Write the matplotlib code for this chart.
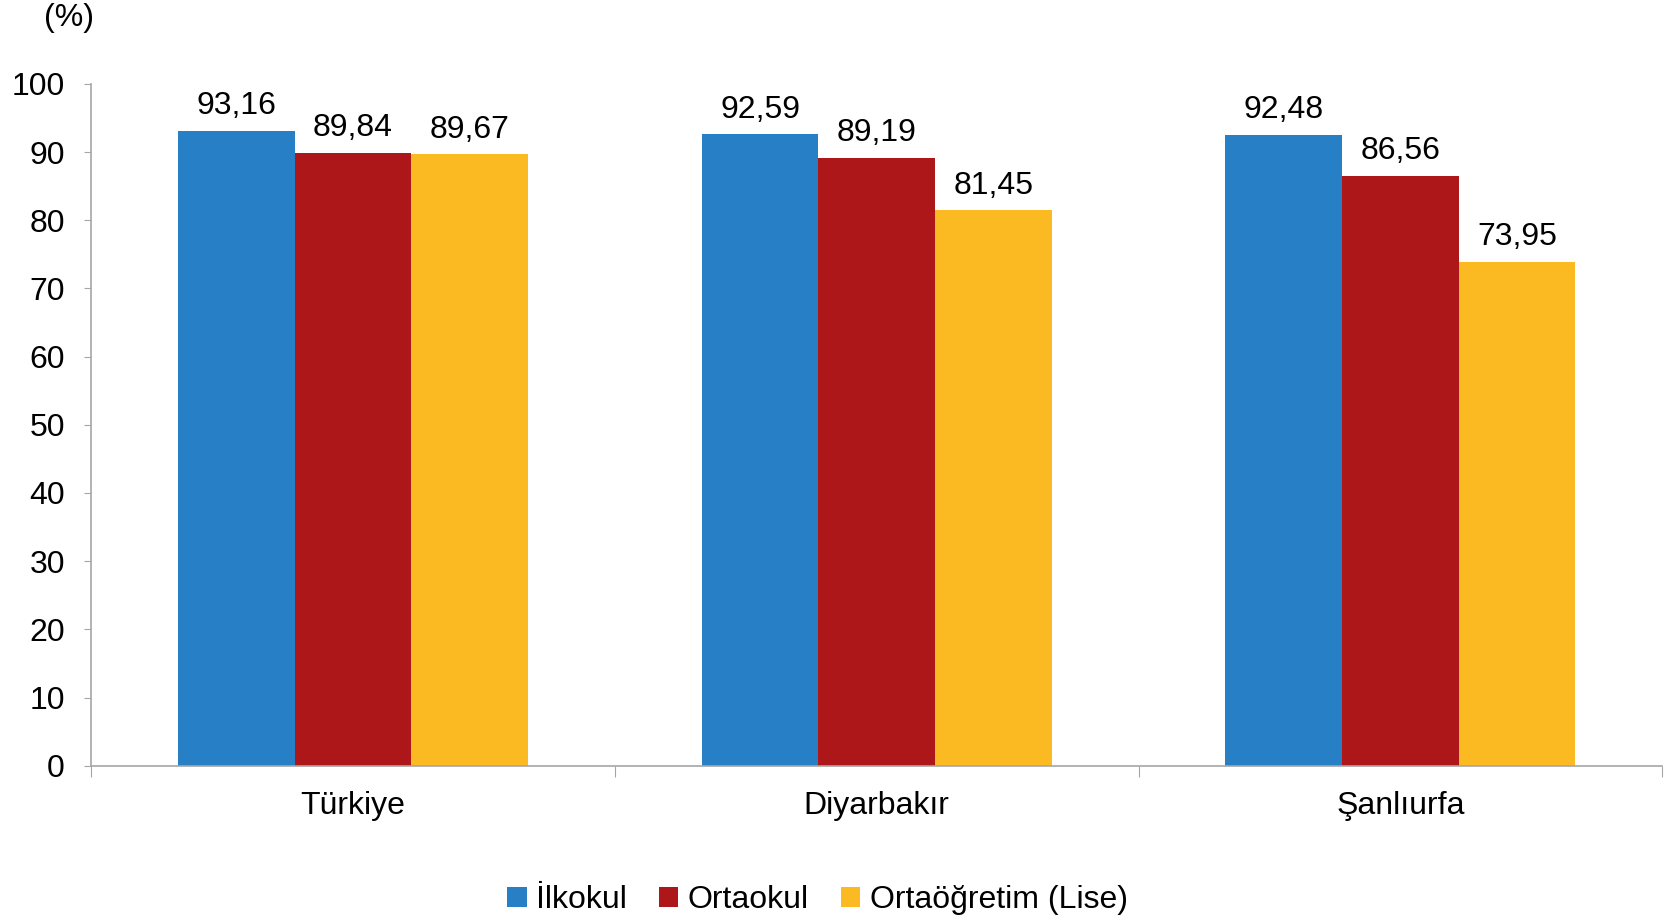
import matplotlib.pyplot as plt
import numpy as np

plt.rcParams['font.family'] = ['Liberation Sans', 'DejaVu Sans']

# data
regions = ["Türkiye", "Diyarbakır", "Şanlıurfa"]
series_names = ["İlkokul", "Ortaokul", "Ortaöğretim (Lise)"]
ilkokul = [93.16, 92.59, 92.48]
ortaokul = [89.84, 89.19, 86.56]
lise = [89.67, 81.45, 73.95]
y_ticks = [0, 10, 20, 30, 40, 50, 60, 70, 80, 90, 100]

colors = ["#2780C5", "#AE1719", "#FBBA22"]
axis_gray = "#A6A6A6"
fs = 23


def fmt(v):
    return f"{v:.2f}".replace(".", ",")


fig = plt.figure(figsize=(16.65, 9.17), dpi=100)
ax = fig.add_axes([0.0548, 0.165, 0.9435, 0.7435])

x = np.arange(len(regions))
bar_w = 0.2227
for i, (vals, name) in enumerate(zip([ilkokul, ortaokul, lise], series_names)):
    pos = x + (i - 1) * bar_w
    ax.bar(pos, vals, width=bar_w, color=colors[i], label=name, zorder=2)
    for px, v in zip(pos, vals):
        ax.annotate(fmt(v), (px, v), xytext=(0, 7), textcoords="offset points",
                    ha="center", va="bottom", fontsize=fs)

ax.set_xlim(-0.5, len(regions) - 0.5)
ax.set_ylim(0, 100)
ax.set_yticks(y_ticks)
ax.set_yticklabels([str(t) for t in y_ticks], fontsize=fs)

# category boundaries carry the tick marks, centers carry the labels
ax.set_xticks(np.arange(len(regions) + 1) - 0.5)
ax.set_xticklabels([])
ax.set_xticks(x, minor=True)
ax.set_xticklabels(regions, minor=True, fontsize=fs)
ax.tick_params(axis="x", which="major", length=8, color=axis_gray, direction="out")
ax.tick_params(axis="x", which="minor", length=0, pad=18)
ax.tick_params(axis="y", length=5, color=axis_gray, pad=14)

for side in ["top", "right"]:
    ax.spines[side].set_visible(False)
for side in ["left", "bottom"]:
    ax.spines[side].set_color(axis_gray)
    ax.spines[side].set_linewidth(1.2)

fig.text(0.0415, 0.98, "(%)", ha="center", va="center", fontsize=fs)

fig.legend(loc="center", bbox_to_anchor=(0.491, 0.018), ncol=3, frameon=False,
           fontsize=fs, handlelength=0.6, handleheight=0.6, handletextpad=0.3,
           columnspacing=1.0)

fig.savefig("out.png", dpi=100)
